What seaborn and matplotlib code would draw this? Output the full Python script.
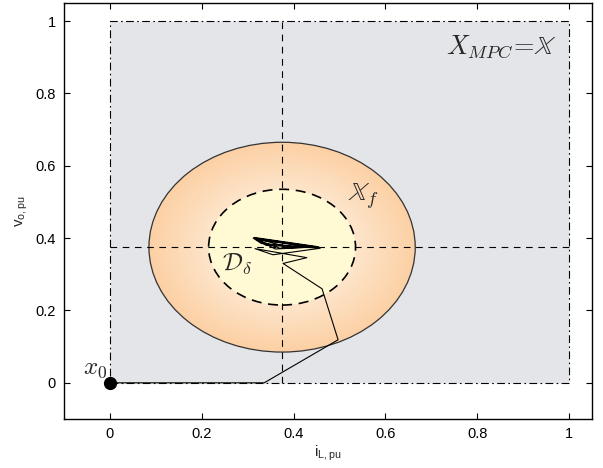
import numpy as np
import pandas as pd
import matplotlib
matplotlib.use("Agg")
import matplotlib.pyplot as plt
from matplotlib.patches import Circle, Rectangle
import seaborn as sns

# ---- data ----
center = (0.375, 0.375)
outer_radius = 0.29
inner_radius = 0.16
traj_x = [0.0, 0.336, 0.497, 0.462, 0.377, 0.429, 0.316, 0.355, 0.458, 0.312, 0.33,
          0.45, 0.318, 0.36, 0.455, 0.314, 0.34, 0.452, 0.32, 0.37, 0.448, 0.316, 0.38]
traj_y = [0.0, 0.0, 0.119, 0.26, 0.33, 0.346, 0.371, 0.354, 0.372, 0.40, 0.385,
          0.374, 0.398, 0.37, 0.376, 0.402, 0.38, 0.373, 0.396, 0.372, 0.376, 0.40, 0.378]
x_ticks = [0, 0.2, 0.4, 0.6, 0.8, 1]
y_ticks = [0, 0.2, 0.4, 0.6, 0.8, 1]
x_tick_labels = ["0", "0.2", "0.4", "0.6", "0.8", "1"]
y_tick_labels = ["0", "0.2", "0.4", "0.6", "0.8", "1"]
constraint_box = (0.0, 0.0, 1.0, 1.0)
x0_point = (0.0, 0.0)

sns.set_style("ticks")
plt.rcParams["font.family"] = ["Liberation Sans", "DejaVu Sans"]
plt.rcParams["mathtext.fontset"] = "cm"

fig = plt.figure(figsize=(6.03, 4.68), dpi=100)
ax = fig.add_axes([64 / 603, 1 - 419 / 468, 528 / 603, 416 / 468])
ax.set_xlim(-0.1, 1.05)
ax.set_ylim(-0.1, 1.05)

# gray constraint set
bx, by, bw, bh = constraint_box
ax.add_patch(Rectangle((bx, by), bw, bh, facecolor="#e4e5e8", edgecolor="black",
                       linestyle=(0, (7, 3, 1.5, 3)), linewidth=0.8, zorder=1))

# radial gradient terminal set
gx = np.linspace(center[0] - outer_radius, center[0] + outer_radius, 400)
gy = np.linspace(center[1] - outer_radius, center[1] + outer_radius, 400)
GX, GY = np.meshgrid(gx, gy)
R = np.sqrt((GX - center[0]) ** 2 + (GY - center[1]) ** 2) / outer_radius
R = np.clip(R, 0, 1)
c_in = np.array([255, 255, 250]) / 255
c_out = np.array([252, 208, 164]) / 255
t = R
img = c_in[None, None, :] * (1 - t[..., None]) + c_out[None, None, :] * t[..., None]
im = ax.imshow(img, extent=(gx[0], gx[-1], gy[0], gy[-1]), origin="lower",
               aspect="auto", zorder=2, interpolation="bilinear")
outer = Circle(center, outer_radius, facecolor="none", edgecolor="#333333",
               linewidth=0.9, zorder=3)
ax.add_patch(outer)
im.set_clip_path(outer)

inner = Circle(center, inner_radius, facecolor="#fffad4", edgecolor="black",
               linestyle=(0, (6, 4)), linewidth=1.2, zorder=4)
ax.add_patch(inner)

# crosshair
ax.plot([center[0], center[0]], [0, 1], color="black", linestyle=(0, (6, 5)),
        linewidth=0.8, zorder=5)
ax.plot([0, 1], [center[1], center[1]], color="black", linestyle=(0, (6, 5)),
        linewidth=0.8, zorder=5)

# trajectory
df = pd.DataFrame({"x": traj_x, "y": traj_y})
sns.lineplot(data=df, x="x", y="y", sort=False, estimator=None, color="black",
             linewidth=0.8, ax=ax, zorder=6)
ax.plot([x0_point[0]], [x0_point[1]], "o", color="black", markersize=8.5, zorder=7)

# annotations
ax.text(0.974, 0.911, r"$X_{MPC}\!=\!\mathbb{X}$", fontsize=19, ha="right",
        va="baseline", zorder=8)
ax.text(0.519, 0.504, r"$\mathbb{X}_f$", fontsize=19, ha="left", va="baseline", zorder=8)
ax.text(0.244, 0.31, r"$\mathcal{D}_\delta$", fontsize=18, ha="left", va="baseline", zorder=8)
ax.text(-0.059, 0.025, r"$x_0$", fontsize=18, ha="left", va="baseline", zorder=8)

ax.set_xticks(x_ticks)
ax.set_xticklabels(x_tick_labels)
ax.set_yticks(y_ticks)
ax.set_yticklabels(y_tick_labels)
ax.tick_params(direction="in", length=4, width=0.8, labelsize=10.5, pad=6,
               top=True, right=True, colors="black")
for s in ax.spines.values():
    s.set_visible(True)
    s.set_linewidth(1.0)
    s.set_color("black")

ax.set_xlabel(r"$\mathregular{i_{L,pu}}$", fontsize=11, labelpad=2)
ax.set_ylabel(r"$\mathregular{v_{o,pu}}$", fontsize=11, labelpad=4)

fig.savefig("out.png", dpi=100)
